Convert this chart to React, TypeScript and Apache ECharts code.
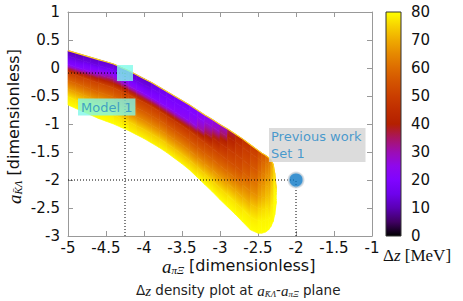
import React, { useEffect, useRef } from "react";
import * as echarts from "echarts";

// ---- axes ----
const xMin = -5, xMax = -1, xStep = 0.5;
const yMin = -3, yMax = 1, yStep = 0.5;
const zMin = 0, zMax = 80, zStep = 10;

// ---- density region: columns (x), top/bottom boundary (y), values top->bottom ----
const profileStops = [0, 0.1, 0.25, 0.4, 0.55, 0.7, 0.85, 1];
const colX = [
  -5.0, -4.9, -4.8, -4.7, -4.6, -4.5, -4.4, -4.3, -4.2, -4.1, -4.0, -3.9, -3.8, -3.7,
  -3.6, -3.5, -3.4, -3.3, -3.2, -3.1, -3.0, -2.9, -2.8, -2.7, -2.6, -2.5, -2.45, -2.4,
  -2.36, -2.33, -2.3, -2.28, -2.26,
];
const colTop = [
  0.31, 0.27, 0.23, 0.19, 0.15, 0.11, 0.07, 0.01, -0.05, -0.12, -0.19, -0.26, -0.34, -0.42,
  -0.5, -0.58, -0.66, -0.75, -0.84, -0.92, -1.01, -1.09, -1.18, -1.27, -1.37, -1.47, -1.52, -1.56,
  -1.6, -1.64, -1.72, -1.88, -2.15,
];
const colBottom = [
  -0.66, -0.72, -0.78, -0.84, -0.9, -0.95, -1.0, -1.06, -1.12, -1.19, -1.26, -1.34, -1.42, -1.51,
  -1.61, -1.71, -1.82, -1.95, -2.08, -2.21, -2.35, -2.48, -2.61, -2.75, -2.89, -2.95, -2.95, -2.93,
  -2.89, -2.83, -2.74, -2.62, -2.42,
];
const colValues = [
  [10, 13, 21, 50, 59, 68, 77, 80],
  [10, 13, 22, 50, 59, 68, 77, 80],
  [11, 14, 24, 51, 59, 68, 77, 80],
  [11, 14, 27, 51, 59, 68, 77, 80],
  [12, 15, 30, 52, 60, 69, 78, 80],
  [12, 16, 32, 52, 60, 69, 78, 80],
  [12, 15, 30, 52, 59, 68, 77, 80],
  [12, 15, 28, 51, 58, 67, 76, 80],
  [12, 14, 25, 51, 58, 66, 75, 79],
  [12, 14, 23, 50, 57, 65, 74, 79],
  [12, 14, 22, 50, 57, 65, 74, 79],
  [14, 16, 22, 50, 57, 65, 74, 79],
  [15, 17, 22, 49, 57, 65, 74, 79],
  [16, 18, 23, 48, 56, 64, 73, 79],
  [17, 19, 23, 48, 56, 64, 73, 79],
  [18, 20, 24, 48, 56, 64, 73, 79],
  [20, 21, 26, 49, 56, 64, 73, 79],
  [22, 24, 31, 50, 57, 65, 74, 80],
  [24, 27, 37, 51, 58, 66, 75, 80],
  [26, 29, 42, 52, 59, 67, 75, 80],
  [29, 34, 46, 53, 60, 68, 76, 80],
  [36, 41, 49, 54, 61, 69, 77, 80],
  [42, 46, 51, 55, 62, 70, 77, 80],
  [46, 49, 53, 58, 64, 71, 78, 80],
  [49, 52, 56, 61, 66, 73, 78, 80],
  [53, 56, 60, 65, 69, 75, 79, 80],
  [56, 59, 63, 67, 71, 76, 79, 80],
  [59, 62, 66, 70, 73, 77, 79, 80],
  [62, 64, 67, 70, 73, 76, 79, 80],
  [68, 70, 72, 74, 76, 78, 79, 80],
  [74, 75, 76, 77, 78, 79, 80, 80],
  [78, 78, 79, 79, 80, 80, 80, 80],
  [80, 80, 80, 80, 80, 80, 80, 80],
];

// ---- annotated points ----
const model1 = [-4.25, -0.09];
const previous = [-2.0, -2.0];

// gnuplot-like palette (rgbformulae 7,5,15)
function pal(v: number): string {
  const t = Math.max(0, Math.min(1, (v - zMin) / (zMax - zMin)));
  const r = Math.sqrt(t);
  const g = t * t * t;
  const b = Math.max(0, Math.sin(2 * Math.PI * t));
  return `rgb(${Math.round(r * 255)},${Math.round(g * 255)},${Math.round(b * 255)})`;
}

const serif = "Liberation Serif";
const sans = "DejaVu Sans";

function buildOption(): any {
  const dotted = { type: [1, 2] as any, width: 1, color: "#000" };
  const lineSeries = (data: number[][]) => ({
    type: "line",
    xAxisIndex: 0,
    yAxisIndex: 0,
    data,
    symbol: "none",
    silent: true,
    lineStyle: dotted,
    z: 3,
  });

  const axisLine = { show: true, onZero: false, lineStyle: { color: "#999", width: 1 } };
  const axisTick = { show: true, inside: true, length: 5, lineStyle: { color: "#999" } };

  return {
    animation: false,
    backgroundColor: "#fff",
    grid: [
      { left: 68, top: 12, width: 304, height: 224, containLabel: false },
      { left: 386, top: 12, width: 15, height: 224, containLabel: false },
    ],
    xAxis: [
      {
        type: "value", gridIndex: 0, min: xMin, max: xMax, interval: xStep, position: "bottom",
        axisLine, axisTick, splitLine: { show: false },
        axisLabel: { color: "#111", fontFamily: sans, fontSize: 15, lineHeight: 15, margin: 4, showMinLabel: true, showMaxLabel: true },
      },
      {
        type: "value", gridIndex: 0, min: xMin, max: xMax, interval: xStep, position: "top",
        axisLine, axisTick, splitLine: { show: false }, axisLabel: { show: false },
      },
      { type: "value", gridIndex: 1, min: 0, max: 1, show: false },
    ],
    yAxis: [
      {
        type: "value", gridIndex: 0, min: yMin, max: yMax, interval: yStep, position: "left",
        axisLine, axisTick, splitLine: { show: false },
        axisLabel: { color: "#111", fontFamily: sans, fontSize: 15, margin: 8, showMinLabel: true, showMaxLabel: true },
      },
      {
        type: "value", gridIndex: 0, min: yMin, max: yMax, interval: yStep, position: "right",
        axisLine, axisTick, splitLine: { show: false }, axisLabel: { show: false },
      },
      {
        type: "value", gridIndex: 1, min: zMin, max: zMax, interval: zStep, position: "right",
        axisLine: { show: false }, axisTick: { show: false }, splitLine: { show: false },
        axisLabel: { color: "#111", fontFamily: sans, fontSize: 15, margin: 10, showMinLabel: true, showMaxLabel: true },
      },
    ],
    series: [
      {
        type: "custom",
        xAxisIndex: 0,
        yAxisIndex: 0,
        silent: true,
        z: 1,
        data: colX.slice(0, -1).map((x, i) => [x, colTop[i]]),
        renderItem: (params: any, api: any) => {
          const i = params.dataIndex;
          const children: any[] = [];
          const yl = (f: number) => colTop[i] + f * (colBottom[i] - colTop[i]);
          const yr = (f: number) => colTop[i + 1] + f * (colBottom[i + 1] - colTop[i + 1]);
          for (let k = 0; k < profileStops.length - 1; k++) {
            const fa = profileStops[k], fb = profileStops[k + 1];
            const p1 = api.coord([colX[i], yl(fa)]);
            const p2 = api.coord([colX[i + 1], yr(fa)]);
            const p3 = api.coord([colX[i + 1], yr(fb)]);
            const p4 = api.coord([colX[i], yl(fb)]);
            const tx = (p1[0] + p2[0]) / 2, ty = (p1[1] + p2[1]) / 2;
            const bx = (p3[0] + p4[0]) / 2, by = (p3[1] + p4[1]) / 2;
            let ux = p2[0] - p1[0], uy = p2[1] - p1[1];
            const ul = Math.hypot(ux, uy) || 1;
            ux /= ul; uy /= ul;
            const nx = -uy, ny = ux;
            let d = (bx - tx) * nx + (by - ty) * ny;
            if (Math.abs(d) < 0.5) d = 0.5;
            const va = colValues[i][k], vb = colValues[i][k + 1];
            const stops = [0, 0.25, 0.5, 0.75, 1].map((o) => ({ offset: o, color: pal(va + o * (vb - va)) }));
            const grad = new echarts.graphic.LinearGradient(tx, ty, tx + nx * d, ty + ny * d, stops, true);
            children.push({
              type: "polygon",
              shape: { points: [p1, p2, p3, p4] },
              style: { fill: grad, stroke: grad, lineWidth: 0.7 },
            });
          }
          return { type: "group", children };
        },
      },
      {
        type: "line",
        xAxisIndex: 0,
        yAxisIndex: 0,
        data: colX.map((x, i) => [x, colTop[i]]),
        symbol: "none",
        silent: true,
        z: 2,
        lineStyle: { color: "#ffd21a", width: 1.1 },
      },
      lineSeries([[xMin, model1[1]], model1]),
      lineSeries([[model1[0], yMin], model1]),
      lineSeries([[xMin, previous[1]], previous]),
      lineSeries([[previous[0], yMin], previous]),
      {
        type: "scatter",
        xAxisIndex: 0,
        yAxisIndex: 0,
        silent: true,
        z: 5,
        data: [model1],
        symbol: "rect",
        symbolSize: 16,
        itemStyle: { color: "#7ffbea" },
        label: {
          show: true,
          position: "inside",
          align: "left",
          verticalAlign: "middle",
          offset: [-47, 34],
          formatter: "Model 1",
          color: "#2a8cc4",
          backgroundColor: "#7ff7e8",
          padding: [2, 3, 1, 3],
          fontFamily: sans,
          fontSize: 13,
          lineHeight: 14,
        },
      },
      {
        type: "scatter",
        xAxisIndex: 0,
        yAxisIndex: 0,
        silent: true,
        z: 5,
        data: [previous],
        symbol: "circle",
        symbolSize: 15,
        itemStyle: { color: "#0b78c6", borderColor: "#d3d8dd", borderWidth: 2 },
        label: {
          show: true,
          position: "inside",
          align: "left",
          verticalAlign: "middle",
          offset: [-27, -35],
          formatter: "Previous work\nSet 1",
          color: "#1e88c8",
          backgroundColor: "#d3d3d3",
          padding: [0, 4, 0, 2],
          fontFamily: sans,
          fontSize: 13,
          lineHeight: 17,
        },
      },
      {
        type: "custom",
        xAxisIndex: 2,
        yAxisIndex: 2,
        silent: true,
        z: 1,
        data: [[0, zMin]],
        renderItem: (_p: any, api: any) => {
          const a = api.coord([0, zMin]);
          const b = api.coord([1, zMax]);
          const stops: any[] = [];
          for (let s = 0; s <= 16; s++) {
            const o = s / 16;
            stops.push({ offset: o, color: pal(zMin + o * (zMax - zMin)) });
          }
          return {
            type: "rect",
            shape: { x: a[0], y: b[1], width: b[0] - a[0], height: a[1] - b[1] },
            style: {
              fill: new echarts.graphic.LinearGradient(0, 1, 0, 0, stops),
              stroke: "#333",
              lineWidth: 1,
            },
          };
        },
      },
    ],
    graphic: [
      {
        type: "text",
        x: 162,
        y: 257,
        silent: true,
        style: {
          text: "{a|a}{s|πΞ}{t| [dimensionless]}",
          fill: "#111",
          rich: {
            a: { fontFamily: serif, fontStyle: "italic", fontSize: 19, lineHeight: 18, verticalAlign: "top" },
            s: { fontFamily: serif, fontStyle: "italic", fontSize: 11, lineHeight: 26, verticalAlign: "middle" },
            t: { fontFamily: sans, fontSize: 16, lineHeight: 18, verticalAlign: "top" },
          },
        },
      },
      {
        type: "text",
        x: 5,
        y: 204,
        rotation: Math.PI / 2,
        silent: true,
        style: {
          text: "{a|a}{s|K̄Λ}{t| [dimensionless]}",
          fill: "#111",
          rich: {
            a: { fontFamily: serif, fontStyle: "italic", fontSize: 19, lineHeight: 18, verticalAlign: "top" },
            s: { fontFamily: serif, fontStyle: "italic", fontSize: 11, lineHeight: 26, verticalAlign: "middle" },
            t: { fontFamily: sans, fontSize: 16, lineHeight: 18, verticalAlign: "top" },
          },
        },
      },
      {
        type: "text",
        x: 383,
        y: 247,
        silent: true,
        style: {
          text: "{d|Δ}{z|z}{t| [MeV]}",
          fill: "#111",
          rich: {
            d: { fontFamily: serif, fontSize: 17, lineHeight: 18, verticalAlign: "top" },
            z: { fontFamily: serif, fontStyle: "italic", fontSize: 17, lineHeight: 18, verticalAlign: "top" },
            t: { fontFamily: serif, fontSize: 17, lineHeight: 18, verticalAlign: "top" },
          },
        },
      },
      {
        type: "text",
        x: 136,
        y: 283,
        silent: true,
        style: {
          text: "{d|Δ}{z|z}{t| density plot at }{a|a}{s|K̄Λ}{t|-}{a|a}{s|πΞ}{t| plane}",
          fill: "#222",
          rich: {
            d: { fontFamily: sans, fontSize: 13.5, lineHeight: 16, verticalAlign: "top" },
            z: { fontFamily: serif, fontStyle: "italic", fontSize: 15, lineHeight: 16, verticalAlign: "top" },
            t: { fontFamily: sans, fontSize: 13.5, lineHeight: 16, verticalAlign: "top" },
            a: { fontFamily: serif, fontStyle: "italic", fontSize: 15, lineHeight: 16, verticalAlign: "top" },
            s: { fontFamily: serif, fontStyle: "italic", fontSize: 9, lineHeight: 22, verticalAlign: "middle" },
          },
        },
      },
    ],
  };
}

export default function App() {
  const ref = useRef<HTMLDivElement>(null);
  useEffect(() => {
    if (!ref.current) return;
    const chart = echarts.init(ref.current, null, { renderer: "svg" });
    chart.setOption(buildOption());
    return () => chart.dispose();
  }, []);
  return (
    <div
      ref={ref}
      style={{ position: "fixed", left: 0, top: 0, width: 463, height: 301, background: "#fff" }}
    />
  );
}
